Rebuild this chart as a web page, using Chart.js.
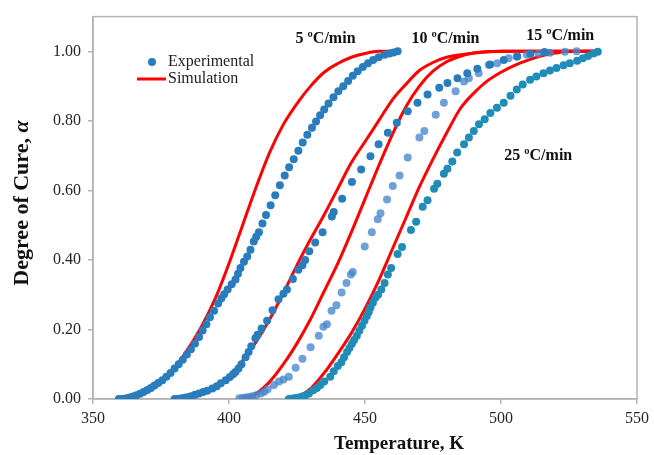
<!DOCTYPE html>
<html>
<head>
<meta charset="utf-8">
<script src="https://cdn.jsdelivr.net/npm/chart.js@4.4.1/dist/chart.umd.min.js"></script>
<style>
  html, body { margin: 0; padding: 0; background: #fff; }
  #wrap { width: 654px; height: 455px; }
</style>
</head>
<body>
<div id="wrap"><canvas id="canvas" width="654" height="455"></canvas></div>
<script>
// tick values
var xTicks = [350, 400, 450, 500, 550];
var yTicks = [0, 0.2, 0.4, 0.6, 0.8, 1.0];

// heating rate labels
var rateLabels = ['5 ºC/min', '10 ºC/min', '15 ºC/min', '25 ºC/min'];

// experimental points [T (K), alpha]
var exp5 = [[359.5,0],[360.5,0],[361.5,0.001],[362.5,0.002],[363.5,0.004],[364.7,0.007],[366,0.011],[367.3,0.015],[368.6,0.02],[370,0.026],[371.3,0.032],[372.6,0.039],[374,0.046],[375.5,0.054],[377,0.064],[378.5,0.075],[380,0.088],[381.5,0.1],[383,0.113],[384.5,0.128],[386,0.143],[387.5,0.16],[389,0.178],[390.3,0.197],[391.7,0.215],[393,0.235],[394.5,0.254],[396,0.275],[397.2,0.29],[398.2,0.301],[399.5,0.315],[401,0.33],[402.4,0.344],[403.3,0.36],[404.2,0.377],[405.5,0.395],[406.7,0.41],[407.9,0.429],[409.1,0.453],[410,0.467],[411,0.48],[412.3,0.505],[413.6,0.529],[415.3,0.557],[417,0.586],[418.7,0.615],[420.5,0.643],[422.1,0.667],[423.8,0.69],[425.5,0.714],[427.1,0.738],[428.8,0.76],[430.5,0.78],[432,0.798],[433.5,0.816],[435,0.833],[436.6,0.85],[438.4,0.868],[440.2,0.885],[442,0.9],[443.8,0.915],[445.5,0.93],[447.3,0.943],[449.2,0.955],[451.1,0.966],[453,0.975],[455,0.983],[457.2,0.99],[459,0.994],[460.5,0.997],[462,1.0]];
var exp10 = [[380,0],[381.5,0.001],[383,0.003],[384.5,0.005],[386,0.008],[387.5,0.012],[389,0.016],[390.5,0.02],[392,0.024],[393.9,0.03],[395.5,0.037],[397,0.045],[398.8,0.054],[400.3,0.063],[401.5,0.071],[402.4,0.078],[403.5,0.088],[404.6,0.1],[406.1,0.12],[407.2,0.135],[408.2,0.152],[409.7,0.175],[410.5,0.185],[412,0.203],[414,0.225],[416,0.255],[418.2,0.287],[420,0.303],[421.3,0.315],[423.5,0.345],[425.5,0.372],[427,0.385],[428,0.4],[429.5,0.425],[431.7,0.45],[434.4,0.48],[437.8,0.525],[438.5,0.538],[441.6,0.576],[445.2,0.624],[448.6,0.66],[452,0.698],[455,0.733],[458.4,0.766],[461.7,0.795],[465.7,0.828],[469.3,0.852],[473,0.876],[477.3,0.895],[480.3,0.909],[484,0.923],[487.6,0.937],[491.3,0.95],[496,0.962],[501,0.975],[506,0.985],[510.8,0.993],[516,0.998]];
var exp15 = [[403.8,0.002],[405,0.003],[406,0.004],[407.3,0.006],[408.6,0.008],[410,0.011],[411.7,0.016],[413,0.021],[414.2,0.028],[416.5,0.04],[418.4,0.05],[420,0.056],[422,0.064],[424.5,0.09],[427,0.116],[430,0.149],[433,0.182],[434.7,0.208],[436,0.215],[437.7,0.254],[439.5,0.27],[441.4,0.306],[443.2,0.334],[444.8,0.358],[445.5,0.365],[449.9,0.439],[452.5,0.48],[454.7,0.517],[455.7,0.534],[458.1,0.574],[460.2,0.613],[462.7,0.643],[465.7,0.695],[470,0.752],[471.8,0.771],[476,0.818],[479,0.852],[483.3,0.885],[486.4,0.913],[488.2,0.923],[491.8,0.937],[495.5,0.961],[498.6,0.966],[502.8,0.98],[505.8,0.985],[509.5,0.99],[513.8,0.994],[518,0.996],[523.5,0.999],[527.8,1.0]];
var exp25 = [[422,0],[423,0.001],[424,0.002],[425,0.003],[426,0.005],[427,0.007],[428,0.01],[429.4,0.016],[431,0.025],[432.3,0.032],[433.6,0.04],[435,0.05],[437.2,0.064],[438.5,0.08],[440,0.095],[441.3,0.106],[442.3,0.12],[443.4,0.135],[444.3,0.147],[445.2,0.159],[446,0.17],[447,0.182],[447.9,0.196],[448.9,0.211],[449.8,0.225],[450.7,0.239],[451.4,0.25],[452,0.263],[452.9,0.277],[453.8,0.291],[454.8,0.3],[456,0.315],[457.2,0.334],[458.4,0.358],[459.6,0.377],[462,0.417],[463.6,0.437],[466.9,0.486],[468.8,0.51],[471.2,0.553],[473,0.572],[475.4,0.605],[476.6,0.619],[479,0.648],[480.3,0.662],[482.1,0.683],[483.9,0.709],[486.4,0.733],[488.2,0.752],[490,0.771],[491.9,0.79],[494,0.805],[496.1,0.823],[498.5,0.838],[501,0.852],[503.5,0.872],[505.8,0.89],[508,0.905],[510.7,0.918],[513,0.928],[515.6,0.937],[518,0.945],[520.4,0.952],[523,0.96],[525.3,0.966],[528,0.973],[530.1,0.98],[532,0.987],[534,0.994],[535.6,0.999]];

// simulation curves [T (K), alpha]
var sim5 = [[360,0.003],[365,0.01],[370,0.025],[375,0.05],[380,0.09],[385,0.145],[390,0.21],[395,0.29],[400,0.39],[405,0.5],[410,0.61],[415,0.71],[420,0.79],[425,0.85],[430,0.9],[435,0.94],[440,0.965],[445,0.983],[450,0.994],[455,1.0],[462,1.0]];
var sim10 = [[380,0],[385,0.005],[390,0.015],[395,0.032],[400,0.062],[405,0.11],[410,0.165],[415,0.23],[420,0.305],[425,0.385],[430,0.46],[435,0.53],[440,0.605],[445,0.68],[450,0.74],[455,0.8],[460,0.86],[465,0.905],[470,0.945],[475,0.968],[480,0.983],[490,0.995],[500,1.0],[536,1.0]];
var sim15 = [[405,0.002],[410,0.016],[415,0.05],[420,0.1],[425,0.16],[430,0.23],[435,0.31],[440,0.39],[445,0.48],[450,0.575],[455,0.67],[460,0.76],[465,0.84],[470,0.9],[475,0.943],[480,0.97],[485,0.986],[490,0.995],[500,1.0],[536,1.0]];
var sim25 = [[422,0],[425,0.005],[430,0.03],[435,0.075],[440,0.13],[445,0.19],[450,0.26],[455,0.34],[460,0.43],[465,0.52],[470,0.61],[475,0.69],[480,0.765],[485,0.835],[490,0.88],[495,0.915],[500,0.94],[505,0.96],[510,0.975],[515,0.987],[520,0.995],[525,1.0],[536,1.0]];

var SERIF = "'Liberation Serif', 'Times New Roman', serif";
var blue = '#2a7dbd';

function pts(arr) {
  return arr.map(function (p) { return { x: p[0], y: p[1] }; });
}

function expSet(arr, color) {
  return { data: pts(arr), backgroundColor: color, borderWidth: 0, pointRadius: 4, pointHoverRadius: 4, showLine: false };
}
function simSet(arr) {
  return { data: pts(arr), borderColor: '#ff0000', borderWidth: 3, pointRadius: 0, showLine: true, cubicInterpolationMode: 'monotone', fill: false };
}

// frame, titles, labels and legend
var overlay = {
  id: 'overlay',
  beforeDatasetsDraw: function (chart) {
    var ctx = chart.ctx, a = chart.chartArea;
    ctx.save();
    ctx.strokeStyle = '#b4b4b4';
    ctx.lineWidth = 1.5;
    ctx.strokeRect(a.left, a.top, a.right - a.left, a.bottom - a.top);
    ctx.restore();
  },
  afterDraw: function (chart) {
    var ctx = chart.ctx, xs = chart.scales.x, ys = chart.scales.y;
    ctx.save();
    ctx.fillStyle = '#111';
    ctx.textBaseline = 'middle';

    // rate labels
    var spots = [[435.5, 1.037], [479.6, 1.037], [521.8, 1.046], [513.7, 0.698]];
    ctx.font = 'bold 16px ' + SERIF;
    ctx.textAlign = 'center';
    for (var i = 0; i < rateLabels.length; i++) {
      ctx.fillText(rateLabels[i], xs.getPixelForValue(spots[i][0]), ys.getPixelForValue(spots[i][1]));
    }

    // legend
    ctx.font = '16px ' + SERIF;
    ctx.textAlign = 'left';
    ctx.fillStyle = '#222';
    ctx.fillText('Experimental', 168, 62);
    ctx.fillText('Simulation', 168, 79);
    ctx.fillStyle = blue;
    ctx.beginPath();
    ctx.arc(152, 62, 4, 0, Math.PI * 2);
    ctx.fill();
    ctx.strokeStyle = '#ff0000';
    ctx.lineWidth = 3;
    ctx.beginPath();
    ctx.moveTo(137, 79);
    ctx.lineTo(166, 79);
    ctx.stroke();

    // x title
    ctx.fillStyle = '#111';
    ctx.font = 'bold 19px ' + SERIF;
    ctx.textAlign = 'center';
    ctx.fillText('Temperature, K', 399, 444);

    // y title
    ctx.translate(22, 203);
    ctx.rotate(-Math.PI / 2);
    var t1 = 'Degree of Cure, ', t2 = 'α';
    ctx.font = 'bold 22px ' + SERIF;
    var w1 = ctx.measureText(t1).width;
    ctx.font = 'italic bold 22px ' + SERIF;
    var w2 = ctx.measureText(t2).width;
    var x0 = -(w1 + w2) / 2;
    ctx.textAlign = 'left';
    ctx.font = 'bold 22px ' + SERIF;
    ctx.fillText(t1, x0, 0);
    ctx.font = 'italic bold 22px ' + SERIF;
    ctx.fillText(t2, x0 + w1, 0);
    ctx.restore();
  }
};

var ctx = document.getElementById('canvas').getContext('2d');
window.myChart = new Chart(ctx, {
  type: 'scatter',
  data: {
    datasets: [
      expSet(exp5, blue),
      expSet(exp10, blue),
      expSet(exp15, 'rgba(70,135,205,0.78)'),
      expSet(exp25, '#1f8db7'),
      simSet(sim5),
      simSet(sim10),
      simSet(sim15),
      simSet(sim25)
    ]
  },
  options: {
    responsive: false,
    animation: false,
    layout: { padding: { top: 13, right: 14, left: 0, bottom: 0 } },
    plugins: { legend: { display: false }, tooltip: { enabled: false } },
    scales: {
      x: {
        type: 'linear',
        min: 350,
        max: 550,
        afterBuildTicks: function (scale) {
          scale.ticks = xTicks.map(function (v) { return { value: v }; });
        },
        afterFit: function (scale) { scale.height = 56; },
        ticks: { font: { family: SERIF, size: 16 }, color: '#262626', padding: 5, maxRotation: 0 },
        grid: { drawOnChartArea: false, drawTicks: true, tickLength: 5, color: '#b4b4b4', lineWidth: 1.5 },
        border: { color: '#b4b4b4', width: 1.5 }
      },
      y: {
        type: 'linear',
        min: 0,
        max: 1.1,
        afterBuildTicks: function (scale) {
          scale.ticks = yTicks.map(function (v) { return { value: v }; });
        },
        afterFit: function (scale) { scale.width = 93; },
        ticks: {
          font: { family: SERIF, size: 16 },
          color: '#262626',
          padding: 7,
          callback: function (v) { return Number(v).toFixed(2); }
        },
        grid: { drawOnChartArea: false, drawTicks: true, tickLength: 5, color: '#b4b4b4', lineWidth: 1.5 },
        border: { color: '#b4b4b4', width: 1.5 }
      }
    }
  },
  plugins: [overlay]
});
</script>
</body>
</html>
